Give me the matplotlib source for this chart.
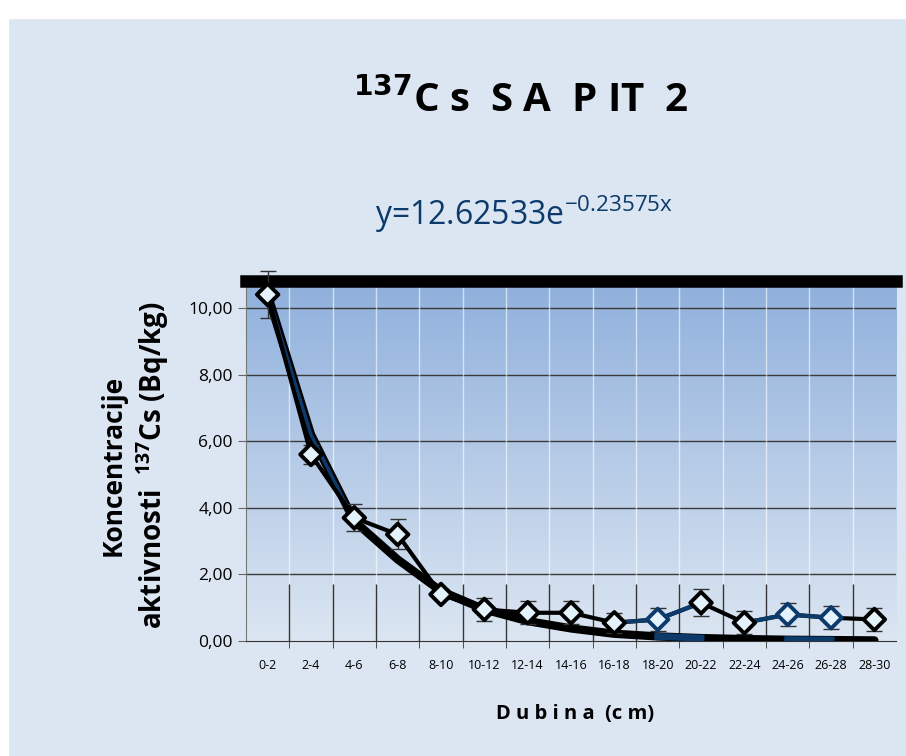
import numpy as np
import matplotlib.pyplot as plt

# Podaci (procijenjeno sa slike)
dubina = ['0-2', '2-4', '4-6', '6-8', '8-10', '10-12', '12-14', '14-16',
          '16-18', '18-20', '20-22', '22-24', '24-26', '26-28', '28-30']
aktivnost = [10.4, 5.6, 3.7, 3.2, 1.4, 0.95, 0.85, 0.85,
             0.55, 0.65, 1.15, 0.55, 0.8, 0.7, 0.65]
greska = [0.7, 0.3, 0.4, 0.45, 0.15, 0.35, 0.35, 0.35,
          0.3, 0.35, 0.4, 0.35, 0.35, 0.35, 0.35]
trend = [10.4, 6.2, 3.6, 2.45, 1.5, 0.95, 0.6, 0.38,
         0.22, 0.14, 0.09, 0.06, 0.04, 0.03, 0.02]

navy = '#0b3a6b'
plt.rcParams['font.family'] = ['Open Sans', 'DejaVu Sans']

fig = plt.figure(figsize=(9.06, 7.56), dpi=100)
fig.patch.set_facecolor('#dce6f2')
# bijeli rub gore i lijevo
fig.add_artist(plt.Rectangle((0, 0.976), 1, 0.024, transform=fig.transFigure,
                             color='white', zorder=0))
fig.add_artist(plt.Rectangle((0, 0), 0.009, 1, transform=fig.transFigure,
                             color='white', zorder=0))

ax = fig.add_axes([0.2715, 0.152, 0.7175, 0.476])
x = np.arange(len(dubina))

# gradijent pozadine (tamnije gore)
grad = np.linspace(0, 1, 256).reshape(-1, 1)
ax.imshow(grad, extent=[0, 1, 0, 1], transform=ax.transAxes, aspect='auto',
          origin='lower',
          cmap=plt.matplotlib.colors.LinearSegmentedColormap.from_list(
              'g', ['#dce6f2', '#8fb0dc']), zorder=0)

ax.set_xlim(-0.5, len(dubina) - 0.5)
ax.set_ylim(0, 10.8)

# mreža
ax.set_yticks([0, 2, 4, 6, 8, 10])
ax.set_yticklabels([f'{v:.2f}'.replace('.', ',') for v in [0, 2, 4, 6, 8, 10]])
for yv in [2, 4, 6, 8, 10]:
    ax.axhline(yv, color='#3a3a3a', lw=1.0, zorder=1)
ax.set_xticks(x)
ax.set_xticklabels(dubina, fontsize=9)
ax.set_xticks(x[:-1] + 0.5, minor=True)
ax.tick_params(axis='x', which='major', length=0, pad=13)
ax.tick_params(axis='x', which='minor', length=10, color='#333333', direction='inout')
ax.tick_params(axis='y', length=6, color='#666666', labelsize=12.5)
for xb in x[:-1] + 0.5:
    ax.axvline(xb, color='white', lw=1.0, alpha=0.6, zorder=1)
ax.vlines(x[:-1] + 0.5, 0, 1.7, color='#333333', lw=1.0, zorder=1)

# trend linija
ax.plot(x, trend, color='black', lw=6, solid_capstyle='round', zorder=3)
ax.plot(x[:3], trend[:3], color=navy, lw=2.5, zorder=3)
ax.plot(x[9:11], trend[9:11], color=navy, lw=5, zorder=3)
ax.plot(x[12:14], trend[12:14], color=navy, lw=5, zorder=3)

# mjerenja
eb = ax.errorbar(x, aktivnost, yerr=greska, fmt='none', ecolor='#333333',
                 elinewidth=1, capsize=6, capthick=1, zorder=4)
for art in eb.lines[1] + eb.lines[2]:
    art.set_clip_on(False)
ax.plot(x, aktivnost, color='black', lw=3, zorder=5)
ax.plot(x[8:11], aktivnost[8:11], color=navy, lw=3, zorder=5)
ax.plot(x[11:14], aktivnost[11:14], color=navy, lw=3, zorder=5)
ec = ['black'] * len(x)
for i in [9, 12, 13]:
    ec[i] = navy
ax.scatter(x, aktivnost, marker='D', s=120, facecolor='#e4f2fb',
           edgecolor=ec, linewidth=2.8, zorder=6)

ax.spines['right'].set_visible(False)
ax.spines['top'].set_color('black')
ax.spines['top'].set_linewidth(9)
ax.spines['left'].set_color('#777777')
ax.spines['bottom'].set_color('#333333')

fig.text(0.575, 0.867, r'$^{\mathregular{\bf{137}}}$C s  S A  P IT  2', ha='center',
         va='center', fontsize=29, fontweight='bold')
fig.text(0.578, 0.716, r'y=12.62533e$^{\mathregular{-0.23575x}}$', ha='center',
         va='center', fontsize=23, color=navy)
fig.text(0.125, 0.385, 'Koncentracije', rotation=90, ha='center', va='center',
         fontsize=19, fontweight='bold')
fig.text(0.168, 0.385, r'aktivnosti  $^{\mathregular{137}}$Cs (Bq/kg)', rotation=90,
         ha='center', va='center', fontsize=20, fontweight='bold')
fig.text(0.635, 0.055, 'D u b i n a  (c m)', ha='center', va='center',
         fontsize=14.5, fontweight='bold')

plt.savefig('out.png', dpi=100, facecolor=fig.get_facecolor())
